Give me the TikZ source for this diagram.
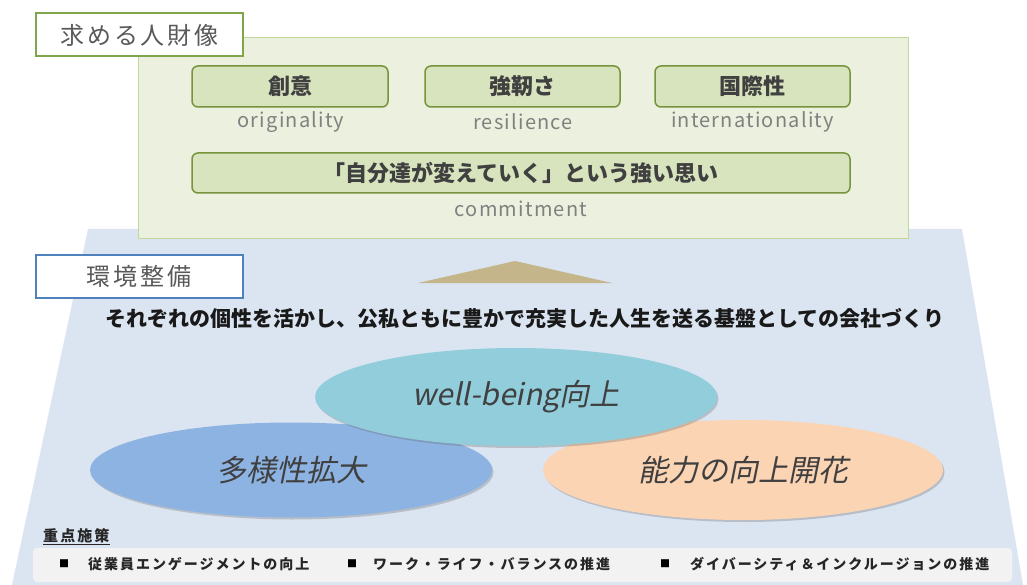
\documentclass[tikz,border=0pt]{standalone}
\usepackage{fontspec}
\setmainfont{Noto Sans CJK JP}
\newfontfamily\slantfont[FakeSlant=0.2]{Noto Sans CJK JP}
\newfontfamily\spacedfont[LetterSpace=14]{Noto Sans CJK JP}
\newfontfamily\ttlfont[LetterSpace=12]{Noto Sans CJK JP}
\newfontfamily\enfont[LetterSpace=6]{Noto Sans CJK JP}
\usetikzlibrary{shapes.geometric,shadows}
\definecolor{envblue}{HTML}{DBE5F1}
\definecolor{panelfill}{HTML}{EBF1DE}
\definecolor{panelline}{HTML}{C3D69B}
\definecolor{traitfill}{HTML}{D7E4BD}
\definecolor{traitline}{HTML}{77933C}
\definecolor{greenline}{HTML}{7FA64A}
\definecolor{blueline}{HTML}{4F81BD}
\definecolor{tan}{HTML}{C4B58A}
\definecolor{darktext}{HTML}{404040}
\definecolor{graytext}{HTML}{808080}
\definecolor{titletext}{HTML}{595959}
\definecolor{wbblue}{HTML}{92CDDC}
\definecolor{divblue}{HTML}{8DB3E2}
\definecolor{peach}{HTML}{FBD4B4}
\definecolor{barfill}{HTML}{F2F2F2}
\tikzset{
  panelbox/.style={draw=panelline, line width=1pt, fill=panelfill, inner sep=0pt},
  traitbox/.style={draw=traitline, line width=1.5pt, fill=traitfill, rounded corners=6pt, inner sep=0pt,
    text=darktext, font=\bfseries\fontsize{22}{22}\selectfont},
  enlabel/.style={inner sep=0pt, text=graytext, font=\enfont\fontsize{20}{20}\selectfont},
  titlebox/.style={fill=white, line width=2pt, inner sep=0pt, minimum width=207pt, minimum height=43pt,
    text=titletext, font=\ttlfont\fontsize{24}{24}\selectfont},
  ellnode/.style={ellipse, inner sep=0pt, text=darktext, font=\slantfont\fontsize{30}{30}\selectfont,
    drop shadow={shadow xshift=1.5pt, shadow yshift=-2pt, opacity=0.3, fill=black!60}},
  itemtext/.style={anchor=west, inner sep=0pt, text=black!85, font=\spacedfont\bfseries\fontsize{14}{14}\selectfont},
  bullet/.style={inner sep=0pt, text=black, font=\fontsize{10}{10}\selectfont}
}
\begin{document}
\begin{tikzpicture}[x=1pt,y=-1pt]
\useasboundingbox (0,0) rectangle (1027,585);
\fill[white] (0,0) rectangle (1027,585);
% environment base
\fill[envblue] (88,229) -- (962,229) -- (1023,585) -- (12,585) -- cycle;
% upper panel
\node[panelbox, minimum width=770pt, minimum height=201pt] (panel) at (523,138.5) {};
\node[traitbox, minimum width=196pt, minimum height=41pt] (sou) at (290,86.5) {創意};
\node[traitbox, minimum width=195pt, minimum height=41pt] (kyo) at (522.5,86.5) {強靭さ};
\node[traitbox, minimum width=195pt, minimum height=41pt] (koku) at (752.5,86.5) {国際性};
\node[enlabel] (ori) at (291,122) {originality};
\node[enlabel] (res) at (523,122) {resilience};
\node[enlabel] (intl) at (752.5,122) {internationality};
\node[traitbox, minimum width=658pt, minimum height=40pt] (omoi) at (521,173) {「自分達が変えていく」という強い思い};
\node[enlabel] (com) at (521,209) {commitment};
% titles
\node[titlebox, draw=greenline] (t1) at (139.5,35) {求める人財像};
\node[titlebox, draw=blueline] (t2) at (139,276.5) {環境整備};
% arrow triangle
\fill[tan] (515,261) -- (612,283) -- (418,283) -- cycle;
% subtitle
\node[inner sep=0pt, text=black!90, font=\bfseries\fontsize{21}{21}\selectfont] (sub) at (525,318)
  {それぞれの個性を活かし、公私ともに豊かで充実した人生を送る基盤としての会社づくり};
% ellipses
\node[ellnode, fill=divblue, minimum width=402pt, minimum height=95pt] (div) at (291,470) {多様性拡大};
\node[ellnode, fill=peach, minimum width=400pt, minimum height=100pt] (abil) at (743,470) {能力の向上開花};
\node[ellnode, fill=wbblue, minimum width=402pt, minimum height=98pt] (wb) at (516,397) {well-being向上};
% key measures
\node[anchor=west, inner sep=0pt, text=black!85, font=\spacedfont\bfseries\fontsize{15}{15}\selectfont] (jt) at (43,537) {\underline{重点施策}};
\node[fill=barfill, rounded corners=4pt, minimum width=979pt, minimum height=34pt, inner sep=0pt] (bar) at (522.5,565) {};
\node[bullet] (b1) at (64,564) {■};
\node[itemtext] (i1) at (88,564) {従業員エンゲージメントの向上};
\node[bullet] (b2) at (352,564) {■};
\node[itemtext] (i2) at (373,564) {ワーク・ライフ・バランスの推進};
\node[bullet] (b3) at (665,564) {■};
\node[itemtext] (i3) at (690,564) {ダイバーシティ＆インクルージョンの推進};
\end{tikzpicture}
\end{document}
